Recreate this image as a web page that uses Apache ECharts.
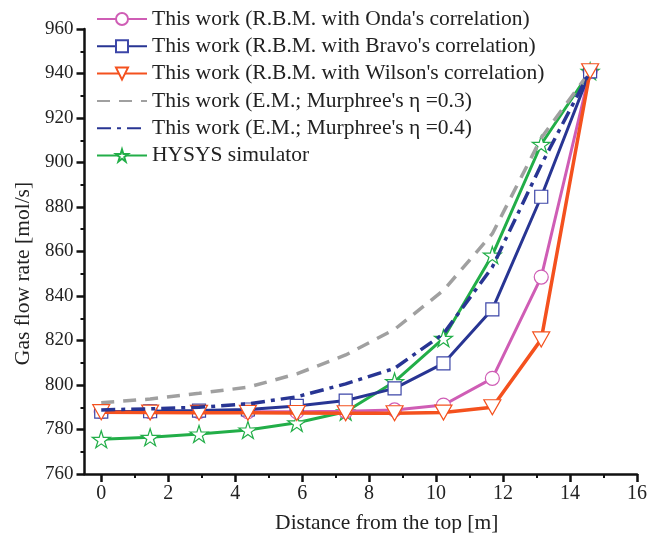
<!DOCTYPE html>
<html>
<head>
<meta charset="utf-8">
<script src="https://cdn.jsdelivr.net/npm/echarts@6/dist/echarts.min.js"></script>
<style>html,body{margin:0;padding:0;background:#fff;}#c{width:647px;height:533px;}</style>
</head>
<body>
<div id="c"></div>
<script>
const distance = [0, 1.46, 2.92, 4.38, 5.84, 7.3, 8.76, 10.22, 11.68, 13.14, 14.6];
const onda    = [788, 788, 788, 788, 788, 788.2, 788.8, 791, 803, 848.5, 941];
const bravo   = [788, 788.2, 788.5, 789, 790.6, 793, 798.5, 809.7, 834, 884.6, 941];
const wilson  = [787.8, 787.6, 787.5, 787.5, 787.4, 787.3, 787.3, 787.6, 790, 820.5, 941];
const em03    = [792, 793.7, 796.3, 799, 805, 813.5, 825, 842.5, 868, 911, 941];
const em04    = [788.8, 789.3, 790, 791.5, 794.7, 800.5, 807.5, 823, 853, 899, 941];
const hysys   = [775.6, 776.5, 778, 779.8, 783, 788, 801.5, 821, 858.4, 908.2, 941];
const names = [
  "This work (R.B.M. with Onda's correlation)",
  "This work (R.B.M. with Bravo's correlation)",
  "This work (R.B.M. with Wilson's correlation)",
  "This work (E.M.; Murphree's η =0.3)",
  "This work (E.M.; Murphree's η =0.4)",
  "HYSYS simulator"
];
const xMajorTicks = [0, 2, 4, 6, 8, 10, 12, 14, 16];
const xMinorTicks = [1, 3, 5, 7, 9, 11, 13, 15];
const yTicks = {min: 760, max: 960, interval: 20};
const xRange = {min: -0.5, max: 16};

const pair = arr => distance.map((d, i) => [d, arr[i]]);
const FONT = '"Liberation Serif", "Times New Roman", serif';
const starPath = 'path://M50,0 L61,35 L98,35 L68,57 L79,91 L50,70 L21,91 L32,57 L2,35 L39,35 Z';
const triDown = 'path://M0,0 L10,0 L5,9 Z';
const AX = '#111';

const chart = echarts.init(document.getElementById('c'), null, {renderer: 'canvas'});
chart.setOption({
  animation: false,
  backgroundColor: '#fff',
  grid: {left: 84.5, right: 10, top: 29, bottom: 59, containLabel: false, outerBoundsMode: 'none'},
  legend: {
    orient: 'vertical', left: 91, top: 3,
    itemWidth: 50, itemHeight: 15, itemGap: 5.3,
    data: names.map((n, i) => (i === 3 || i === 4)
      ? {name: n, itemStyle: {color: 'rgba(0,0,0,0)', borderColor: 'rgba(0,0,0,0)', opacity: 0}}
      : {name: n}),
    textStyle: {fontFamily: FONT, fontSize: 21.5, color: '#222', lineHeight: 21}
  },
  xAxis: [{
    type: 'value', min: xRange.min, max: xRange.max,
    name: 'Distance from the top [m]', nameLocation: 'middle', nameGap: 38,
    nameTextStyle: {fontFamily: FONT, fontSize: 21.5, color: '#222', padding: [0, 0, 0, 52]},
    axisLine: {show: true, onZero: false, lineStyle: {color: AX, width: 2.5}},
    axisTick: {show: true, inside: false, length: 8, customValues: xMajorTicks, lineStyle: {width: 2.5, color: AX}},
    splitLine: {show: false},
    axisLabel: {fontFamily: FONT, fontSize: 20, color: '#222', margin: 10, customValues: xMajorTicks}
  }, {
    type: 'value', min: xRange.min, max: xRange.max, position: 'bottom',
    axisLine: {show: false, onZero: false},
    axisTick: {show: true, inside: false, length: 4, customValues: xMinorTicks, lineStyle: {width: 2, color: AX}},
    axisLabel: {show: false},
    splitLine: {show: false}
  }],
  yAxis: {
    type: 'value', min: yTicks.min, max: yTicks.max, interval: yTicks.interval,
    name: 'Gas flow rate [mol/s]', nameLocation: 'middle', nameGap: 50,
    nameTextStyle: {fontFamily: FONT, fontSize: 21.5, color: '#222', padding: [0, 44, 0, 0]},
    axisLine: {show: true, onZero: false, lineStyle: {color: AX, width: 2.5}},
    axisTick: {show: true, inside: false, length: 8, lineStyle: {width: 2.5, color: AX}},
    minorTick: {show: true, splitNumber: 2, length: 4, lineStyle: {width: 2, color: AX}},
    splitLine: {show: false},
    axisLabel: {fontFamily: FONT, fontSize: 19, color: '#222', margin: 11}
  },
  series: [
    {name: names[0], type: 'line', data: pair(onda), z: 3,
     symbol: 'circle', symbolSize: 14,
     lineStyle: {color: '#CF5DB5', width: 3}, itemStyle: {color: '#fff', borderColor: '#CF5DB5', borderWidth: 1.2}},
    {name: names[1], type: 'line', data: pair(bravo), z: 4,
     symbol: 'rect', symbolSize: 13,
     lineStyle: {color: '#283593', width: 3}, itemStyle: {color: '#fff', borderColor: '#3C46A8', borderWidth: 1.2}},
    {name: names[2], type: 'line', data: pair(wilson), z: 5,
     symbol: triDown, symbolSize: [17, 15],
     lineStyle: {color: '#F4511E', width: 3.5}, itemStyle: {color: '#fff', borderColor: '#F4511E', borderWidth: 1.2}},
    {name: names[3], type: 'line', data: pair(em03), z: 2,
     symbol: 'none',
     lineStyle: {color: '#A0A0A0', width: 3.5, type: [13, 9]}, itemStyle: {color: '#A0A0A0'}},
    {name: names[4], type: 'line', data: pair(em04), z: 6,
     symbol: 'none',
     lineStyle: {color: '#283593', width: 3.5, type: [14, 6, 4, 6]}, itemStyle: {color: '#283593'}},
    {name: names[5], type: 'line', data: pair(hysys), z: 1,
     symbol: starPath, symbolSize: [18, 17],
     lineStyle: {color: '#22AE48', width: 3}, itemStyle: {color: '#fff', borderColor: '#22AE48', borderWidth: 1.2}}
  ]
});
</script>
</body>
</html>
